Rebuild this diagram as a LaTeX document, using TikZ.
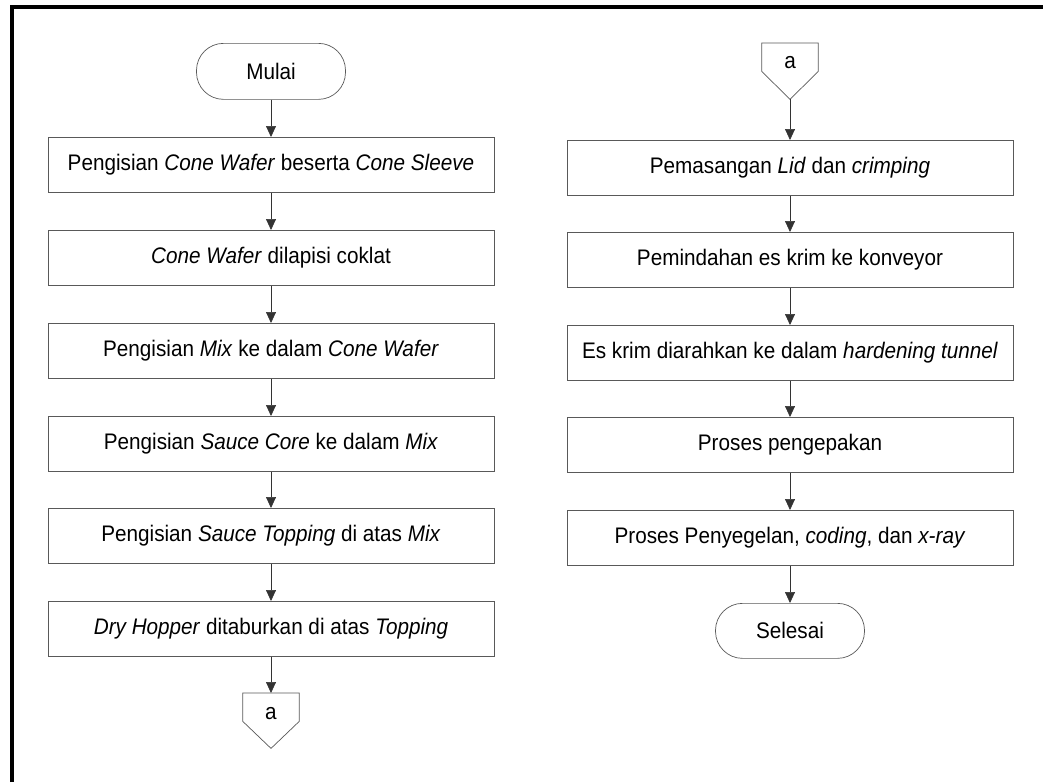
\documentclass[tikz,border=0pt]{standalone}
\usepackage{fontspec}
\setmainfont{Liberation Sans}[FakeStretch=0.92]
\usetikzlibrary{arrows.meta}
\begin{document}
\begin{tikzpicture}[x=1pt,y=-1pt,
  txt/.style={font=\fontsize{22.5}{26}\selectfont},
  proc/.style={txt, draw=black!65, line width=0.7pt, minimum width=446pt, minimum height=55pt, inner sep=0pt, anchor=north},
  term/.style={txt, draw=black!65, line width=0.7pt, rounded corners=27pt, minimum width=149pt, minimum height=56pt, inner sep=0pt, anchor=north},
  conn/.style={minimum width=56pt, minimum height=28pt, inner sep=0pt, anchor=north},
  connshape/.style={draw=black!65, line width=0.7pt},
  flow/.style={draw=black!80, line width=0.7pt, -{Triangle[length=11pt,width=10pt]}},
  frame/.style={line width=4pt, black}
]
\fill[white] (0,0) rectangle (1043,782);
\useasboundingbox (0,0) rectangle (1043,782);
\draw[frame] (12,782) -- (12,7) -- (1043,7);

% left column
\node[term] (start) at (271,43) {Mulai};
\node[proc] (l1) at (271,137) {Pengisian \textit{Cone Wafer} beserta \textit{Cone Sleeve}};
\node[proc] (l2) at (271,230) {\textit{Cone Wafer} dilapisi coklat};
\node[proc] (l3) at (271,323) {Pengisian \textit{Mix} ke dalam \textit{Cone Wafer}};
\node[proc] (l4) at (271,416) {Pengisian \textit{Sauce Core} ke dalam \textit{Mix}};
\node[proc] (l5) at (271,508) {Pengisian \textit{Sauce Topping} di atas \textit{Mix}};
\node[proc] (l6) at (271,601) {\textit{Dry Hopper} ditaburkan di atas \textit{Topping}};
\node[conn] (la) at (271,693) {};
\draw[connshape] (la.north west) -- (la.north east) -- (la.south east) -- ([yshift=-27pt]la.south) -- (la.south west) -- cycle;
\node[txt] (lalabel) at ([yshift=-6pt]la.center) {a};

\draw[flow] (start) -- (l1);
\draw[flow] (l1) -- (l2);
\draw[flow] (l2) -- (l3);
\draw[flow] (l3) -- (l4);
\draw[flow] (l4) -- (l5);
\draw[flow] (l5) -- (l6);
\draw[flow] (l6) -- (la);

% right column
\node[conn] (ra) at (790,43) {};
\draw[connshape] (ra.north west) -- (ra.north east) -- (ra.south east) -- ([yshift=-28pt]ra.south) coordinate (ratip) -- (ra.south west) -- cycle;
\node[txt] (ralabel) at ([yshift=-5pt]ra.center) {a};
\node[proc] (r1) at (790,140) {Pemasangan \textit{Lid} dan \textit{crimping}};
\node[proc] (r2) at (790,232) {Pemindahan es krim ke konveyor};
\node[proc] (r3) at (790,325) {Es krim diarahkan ke dalam \textit{hardening tunnel}};
\node[proc] (r4) at (790,417) {Proses pengepakan};
\node[proc] (r5) at (790,510) {Proses Penyegelan, \textit{coding}, dan \textit{x-ray}};
\node[term, minimum height=55pt] (stop) at (790,603) {Selesai};

\draw[flow] (ratip) -- (r1);
\draw[flow] (r1) -- (r2);
\draw[flow] (r2) -- (r3);
\draw[flow] (r3) -- (r4);
\draw[flow] (r4) -- (r5);
\draw[flow] (r5) -- (stop);
\end{tikzpicture}
\end{document}
